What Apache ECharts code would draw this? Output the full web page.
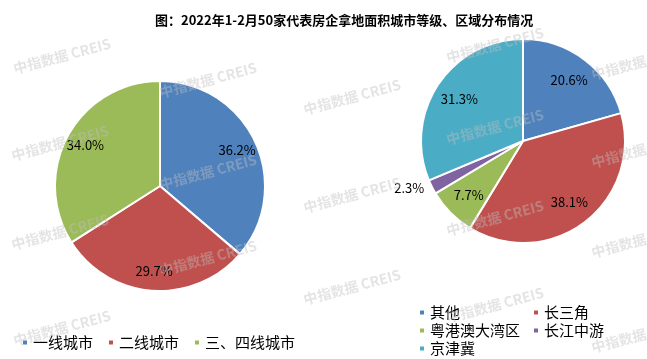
<!DOCTYPE html>
<html><head><meta charset="utf-8">
<script src="https://cdn.jsdelivr.net/npm/echarts@6/dist/echarts.min.js"></script>
<style>html,body{margin:0;padding:0;background:#fff}#c{width:647px;height:359px}</style>
</head><body><div id="c"></div>
<script>
const titleText = '图：2022年1-2月50家代表房企拿地面积城市等级、区域分布情况';
const cityCategories = ['一线城市', '二线城市', '三、四线城市'];
const cityValues = [36.2, 29.7, 34.0];
const regionCategories = ['其他', '长三角', '粤港澳大湾区', '长江中游', '京津冀'];
const regionValues = [20.6, 38.1, 7.7, 2.3, 31.3];
const cityColors = ['#4F81BD', '#C0504D', '#9BBB59'];
const regionColors = ['#4F81BD', '#C0504D', '#9BBB59', '#8064A2', '#4BACC6'];
const watermark = '中指数据 CREIS';
const wmPositions = [[62,56],[60,143],[60,232],[62,328],[208,80],[208,172],[208,258],[352,97],[352,195],[352,287],[495,45],[495,127],[495,218],[495,305],[640,62],[640,150],[640,240],[640,335]];

const FONT = '"Noto Sans CJK SC", "Noto Sans", sans-serif';
const chart = echarts.init(document.getElementById('c'));

function mainData(cats, vals, cols) {
  return cats.map((n, i) => ({ name: n, value: vals[i], itemStyle: { color: cols[i] } }));
}
function labelData(cats, vals, outsideIdx) {
  return cats.map((n, i) => {
    const o = { name: n, value: vals[i] };
    if (i === outsideIdx) {
      o.label = { position: 'outside' };
      o.labelLine = { show: false, length: 3, length2: 0 };
    }
    return o;
  });
}
const lbl = {
  show: true, position: 'inside', color: '#000', fontSize: 13, fontFamily: FONT,
  formatter: p => p.value.toFixed(1) + '%'
};
const legText = { fontSize: 15, color: '#000', fontFamily: FONT, lineHeight: 15 };

chart.setOption({
  backgroundColor: '#fff',
  animation: false,
  title: {
    text: titleText, left: 150, top: 9,
    textStyle: { fontSize: 13, fontWeight: 'bold', color: '#000', fontFamily: FONT }
  },
  legend: [
    { data: cityCategories, left: 21, top: 335, padding: 0, itemWidth: 6, itemHeight: 6, itemGap: 14, icon: 'rect',
      textStyle: legText },
    { data: [regionCategories[0], regionCategories[2], regionCategories[4]], orient: 'vertical', left: 418, top: 305,
      height: 60, padding: 0, itemWidth: 6, itemHeight: 6, itemGap: 3, icon: 'rect', textStyle: legText },
    { data: [regionCategories[1], regionCategories[3]], orient: 'vertical', left: 532, top: 305,
      height: 60, padding: 0, itemWidth: 6, itemHeight: 6, itemGap: 3, icon: 'rect', textStyle: legText }
  ],
  series: [
    { type: 'pie', center: [160, 186], radius: [0, 105], startAngle: 90, clockwise: true,
      label: { show: false }, labelLine: { show: false },
      itemStyle: { borderColor: '#fff', borderWidth: 2 },
      emphasis: { disabled: true },
      data: mainData(cityCategories, cityValues, cityColors) },
    { type: 'pie', center: [160, 186], radius: [59, 105], startAngle: 90, clockwise: true, silent: true,
      itemStyle: { color: 'rgba(0,0,0,0)' }, label: lbl, labelLine: { show: false },
      emphasis: { disabled: true },
      data: labelData(cityCategories, cityValues, -1) },
    { type: 'pie', center: [523, 141], radius: [0, 102], startAngle: 90, clockwise: true,
      label: { show: false }, labelLine: { show: false },
      itemStyle: { borderColor: '#fff', borderWidth: 2 },
      emphasis: { disabled: true },
      data: mainData(regionCategories, regionValues, regionColors) },
    { type: 'pie', center: [523, 141], radius: [45, 102], startAngle: 90, clockwise: true, silent: true,
      itemStyle: { color: 'rgba(0,0,0,0)' }, label: lbl, labelLine: { show: false },
      avoidLabelOverlap: false,
      emphasis: { disabled: true },
      data: labelData(regionCategories, regionValues, 3) }
  ],
  graphic: wmPositions.map(p => ({
    type: 'text', x: p[0], y: p[1], rotation: 0.26, z: 100, silent: true,
    style: { text: watermark, x: 0, y: 0, align: 'center', verticalAlign: 'middle',
      fill: 'rgba(190,190,190,0.42)', font: 'bold 14px ' + FONT }
  }))
});
</script></body></html>
